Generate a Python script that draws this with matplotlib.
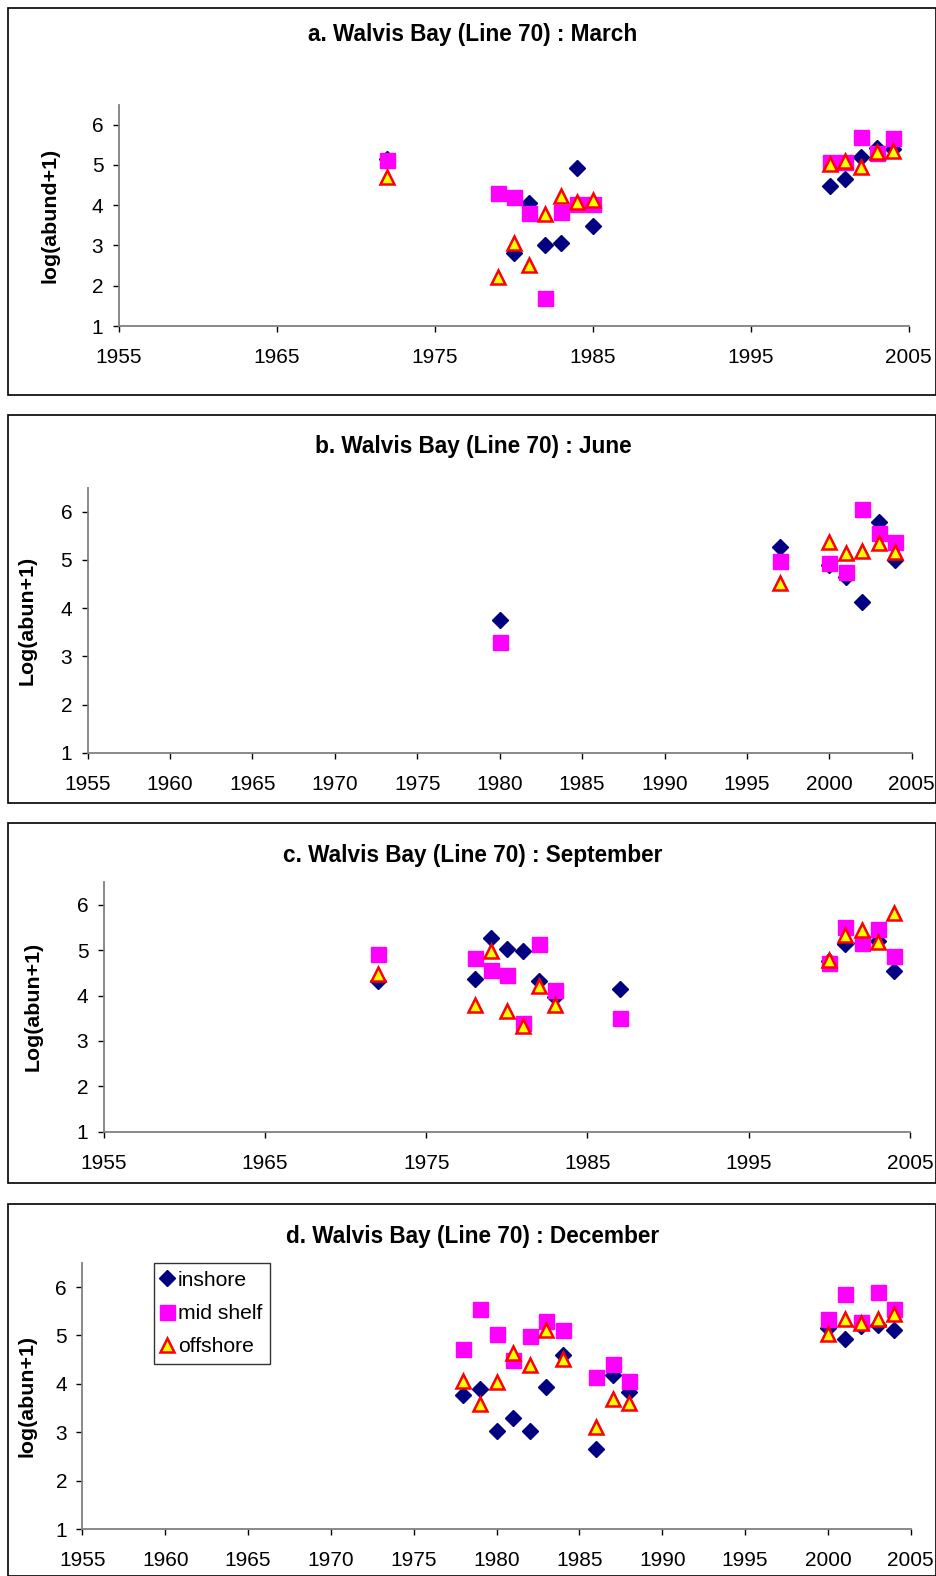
import matplotlib.pyplot as plt
from matplotlib.patches import Rectangle

plt.rcParams['font.family'] = ['Liberation Sans', 'DejaVu Sans']

W, H = 937, 1576

# --- data ---
mar_in_yr = [1972, 1980, 1981, 1982, 1983, 1984, 1985, 2000, 2001, 2002, 2003, 2004]
mar_in = [5.15, 2.82, 4.05, 3.02, 3.05, 4.93, 3.48, 4.48, 4.64, 5.19, 5.41, 5.40]
mar_mid_yr = [1972, 1979, 1980, 1981, 1982, 1983, 1984, 1985, 2000, 2001, 2002, 2003, 2004]
mar_mid = [5.12, 4.30, 4.20, 3.80, 1.70, 3.82, 4.03, 4.03, 5.07, 5.08, 5.70, 5.29, 5.66]
mar_off_yr = [1972, 1979, 1980, 1981, 1982, 1983, 1984, 1985, 2000, 2001, 2002, 2003, 2004]
mar_off = [4.69, 2.21, 3.05, 2.52, 3.78, 4.23, 4.08, 4.12, 5.02, 5.10, 4.96, 5.32, 5.35]

jun_in_yr = [1980, 1997, 2000, 2001, 2002, 2003, 2004]
jun_in = [3.75, 5.27, 4.90, 4.65, 4.13, 5.79, 5.00]
jun_mid_yr = [1980, 1997, 2000, 2001, 2002, 2003, 2004]
jun_mid = [3.30, 4.98, 4.94, 4.76, 6.05, 5.55, 5.38]
jun_off_yr = [1997, 2000, 2001, 2002, 2003, 2004]
jun_off = [4.52, 5.37, 5.15, 5.19, 5.35, 5.17]

sep_in_yr = [1972, 1978, 1979, 1980, 1981, 1982, 1983, 1987, 2000, 2001, 2002, 2003, 2004]
sep_in = [4.31, 4.36, 5.26, 5.02, 4.99, 4.33, 3.96, 4.14, 4.75, 5.13, 5.15, 5.20, 4.54]
sep_mid_yr = [1972, 1978, 1979, 1980, 1981, 1982, 1983, 1987, 2000, 2001, 2002, 2003, 2004]
sep_mid = [4.91, 4.83, 4.56, 4.46, 3.40, 5.14, 4.12, 3.50, 4.71, 5.50, 5.15, 5.46, 4.86]
sep_off_yr = [1972, 1978, 1979, 1980, 1981, 1982, 1983, 2000, 2001, 2002, 2003, 2004]
sep_off = [4.48, 3.79, 4.97, 3.65, 3.32, 4.21, 3.78, 4.78, 5.34, 5.45, 5.17, 5.82]

dec_yr = [1978, 1979, 1980, 1981, 1982, 1983, 1984, 1986, 1987, 1988, 2000, 2001, 2002, 2003, 2004]
dec_in = [3.77, 3.89, 3.03, 3.29, 3.03, 3.94, 4.60, 2.65, 4.18, 3.84, 5.15, 4.93, 5.20, 5.22, 5.11]
dec_mid = [4.73, 5.54, 5.02, 4.49, 4.99, 5.29, 5.11, 4.14, 4.41, 4.05, 5.34, 5.85, 5.28, 5.90, 5.55]
dec_off = [4.05, 3.58, 4.03, 4.63, 4.40, 5.11, 4.51, 3.12, 3.68, 3.60, 5.03, 5.35, 5.25, 5.34, 5.44]

titles = ['a. Walvis Bay (Line 70) : March', 'b. Walvis Bay (Line 70) : June',
          'c. Walvis Bay (Line 70) : September', 'd. Walvis Bay (Line 70) : December']
ylabels = ['log(abund+1)', 'Log(abun+1)', 'Log(abun+1)', 'log(abun+1)']

panels = [
    (mar_in_yr, mar_in, mar_mid_yr, mar_mid, mar_off_yr, mar_off),
    (jun_in_yr, jun_in, jun_mid_yr, jun_mid, jun_off_yr, jun_off),
    (sep_in_yr, sep_in, sep_mid_yr, sep_mid, sep_off_yr, sep_off),
    (dec_yr, dec_in, dec_yr, dec_mid, dec_yr, dec_off),
]

# layout in pixels: plot area (left, right, top, bottom), panel box, ylabel x, title y, xtick step
axpos = [(118.6, 908.5, 104.6, 326.0), (87.5, 911.8, 487.6, 753.0),
         (103.6, 910.0, 882.0, 1131.7), (82.4, 910.8, 1262.8, 1529.2)]
boxes = [(8, 8, 936, 395), (8, 415, 936, 803), (8, 823, 936, 1183), (8, 1204, 936, 1576)]
ylab_x = [50, 27, 33, 27]
title_y = [35, 446, 856, 1236]
xstep = [10, 5, 10, 5]

fig = plt.figure(figsize=(W / 100, H / 100), dpi=100)

for i in range(4):
    x0, y0, x1, y1 = boxes[i]
    fig.patches.append(Rectangle((x0 / W, 1 - y1 / H), (x1 - x0) / W, (y1 - y0) / H,
                                 transform=fig.transFigure, fill=False,
                                 edgecolor='black', linewidth=1.2))
    l, r, t, b = axpos[i]
    ax = fig.add_axes([l / W, 1 - b / H, (r - l) / W, (b - t) / H])
    iy, iv, my, mv, oy, ov = panels[i]
    ax.plot(iy, iv, 'D', color='#000080', markersize=7.8, linestyle='none', label='inshore')
    ax.plot(my, mv, 's', color='#FF00FF', markersize=10.8, linestyle='none', label='mid shelf')
    ax.plot(oy, ov, '^', markerfacecolor='#FFFF00', markeredgecolor='#FF0000',
            markeredgewidth=1.8, markersize=9.6, linestyle='none', label='offshore')
    ax.set_xlim(1955, 2005)
    ax.set_ylim(1, 6.5)
    ax.set_xticks(range(1955, 2006, xstep[i]))
    ax.set_yticks(range(1, 7))
    for s in ['top', 'right']:
        ax.spines[s].set_visible(False)
    for s in ['left', 'bottom']:
        ax.spines[s].set_color('#808080')
        ax.spines[s].set_linewidth(1.3)
    ax.tick_params(axis='both', direction='out', length=4, width=1, color='black',
                   labelsize=15)
    ax.tick_params(axis='x', pad=12)
    ax.tick_params(axis='y', pad=7)
    fig.text(473 / W, 1 - title_y[i] / H, titles[i], ha='center', va='center',
             fontsize=16.3, fontweight='bold')
    fig.text(ylab_x[i] / W, 1 - (t + b) / 2 / H, ylabels[i], rotation=90,
             ha='center', va='center', fontsize=15.4, fontweight='bold')
    if i == 3:
        leg = ax.legend(loc='upper left', bbox_to_anchor=(0.086, 0.998), fontsize=15.2,
                        frameon=True, fancybox=False, handlelength=0.6,
                        handletextpad=0.2, labelspacing=0.68, borderpad=0.35,
                        borderaxespad=0)
        leg.get_frame().set_edgecolor('black')
        leg.get_frame().set_linewidth(1)

fig.savefig('out.png', dpi=100)
